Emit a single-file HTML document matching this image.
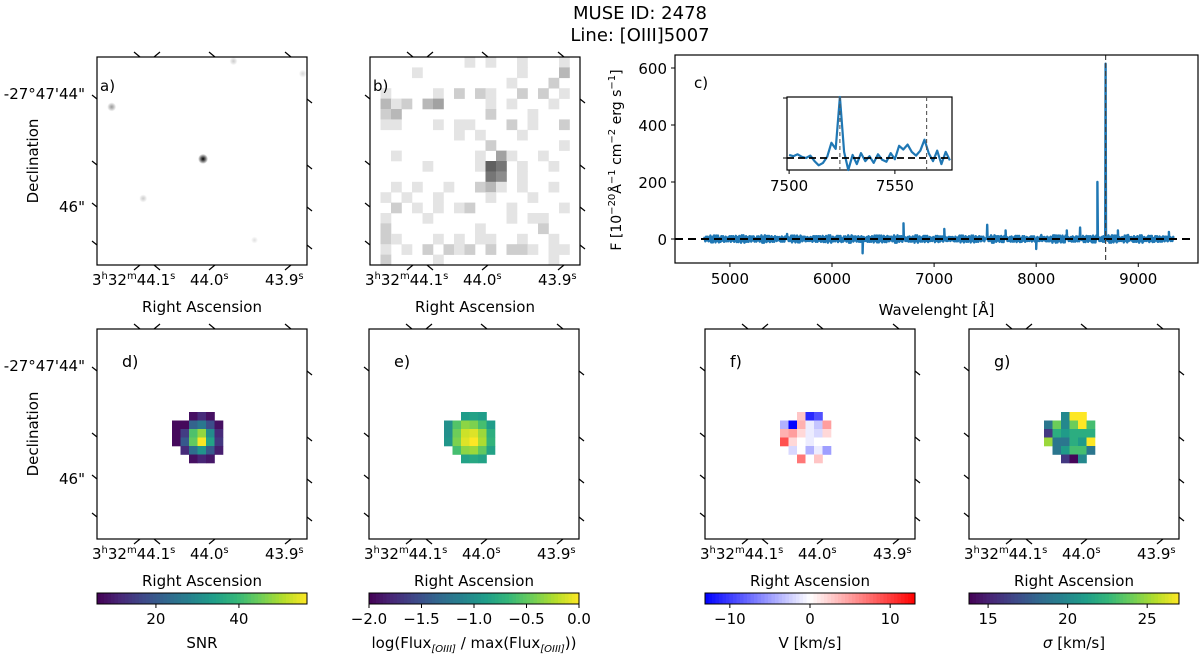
<!DOCTYPE html>
<html><head><meta charset="utf-8"><style>
html,body{margin:0;padding:0;background:#fff;}
svg{display:block;font-family:"DejaVu Sans","Liberation Sans",sans-serif;}
</style></head><body>
<svg id="fig" width="1200" height="657" viewBox="0 0 1200 657" xmlns="http://www.w3.org/2000/svg">
<text x="640" y="19" font-size="18" text-anchor="middle">MUSE ID: 2478</text>
<text x="640" y="41" font-size="18" text-anchor="middle">Line: [OIII]5007</text>
<g id="layer"></g>
</svg>
<script>
// ---- spectrum data ----
const specStart = 4750, specStep = 50;
const specFlux = [8,-5,12,3,-8,10,-4,6,-10,9,2,-6,11,-3,7,-9,4,12,-5,8,-7,3,10,-4,6,-8,11,2,-6,9,-3,7,-10,5,12,-4,8,-6,3,10,-9,6,-2,11,-7,4,9,-5,7,-8,12,-3,5,-10,8,2,-6,10,-4,6,-9,11,3,-7,9,-2,14,-8,6,12,-5,15,-9,8,-4,10,-12,7,3,-6,12,-8,5,14,-10,6,-7,11,3,-9,8,-5,10];
const spikeWave = [5560,6300,6700,7100,7520,7700,8000,8300,8430,8600,8680,8800,9300];
const spikeFlux = [18,-50,55,35,50,30,-35,30,40,200,615,30,25];
const lineWave = 8680;
const yTicks = [0,200,400,600];
const xTicks = [5000,6000,7000,8000,9000];
// ---- inset data ----
const insetWave = [7500,7502,7504,7506,7508,7510,7512,7514,7516,7518,7520,7522,7524,7526,7528,7530,7532,7534,7536,7538,7540,7542,7544,7546,7548,7550,7552,7554,7556,7558,7560,7562,7564,7566,7568,7570,7572,7574,7576];
const insetFlux = [5,3,6,2,0,4,-5,-12,-8,2,25,15,100,10,-20,5,-10,8,-5,3,-8,6,-3,-6,8,-2,20,14,22,10,4,12,30,8,-5,12,-10,10,-4];
const insetLines = [7524,7565];
const insetTicks = [7500,7550];
// ---- 2D maps (null = masked) ----
const snrMap = [[null,null,8,12,8,null],[7,7,22,26,18,8],[7,15,42,48,30,12],[7,20,44,56,35,14],[null,12,24,32,20,10],[null,null,8,11,9,null]];
const fluxMap = [[null,null,-0.9,-0.85,-0.9,null],[-1.0,-0.55,-0.35,-0.4,-0.6,-0.9],[-1.0,-0.45,-0.15,-0.1,-0.3,-0.75],[-0.95,-0.4,-0.1,0,-0.25,-0.7],[null,-0.6,-0.35,-0.3,-0.5,-0.85],[null,null,-0.85,-0.8,-0.85,null]];
const velMap = [[null,null,3,-11,-9,null],[-4,-13,4,-1,-3,5],[4,5,2,-1,-2,2],[9,2,0,-1,0,0],[null,-2,0,-4,-1,-5],[null,null,7,0,3,null]];
const sigMap = [[null,null,20,27,27,null],[19,24,20,24,27,23],[16,22,21,22,22,22],[25,19,19,22,21,27],[null,19,21,23,23,19],[null,null,16,14,20,null]];
const snrTicks = [20,40], fluxTicks = [-2.0,-1.5,-1.0,-0.5,0.0], velTicks = [-10,0,10], sigTicks = [15,20,25];
const bImage = ["00000000010100100010","00001000000000100030","00000000000001000200","01000010202100202010","03120340000101000100","02300000000200010000","01100010110002010020","00000000101000100000","00000000000200000010","00100000001041001000","00000100001760100100","00000000000650100000","00101001002310100100","01010010000100010000","00201010120001000010","01000100000001011000","02000000001000002000","02100010101100100100","01010202120202210110","02000010000000000100"];
const aSources = [[0.505,0.49,5,1],[0.07,0.24,4.5,0.4],[0.22,0.68,4,0.2],[0.65,0.02,4,0.2],[0.98,0.08,4,0.15],[0.75,0.88,3.5,0.12]];

const NS="http://www.w3.org/2000/svg";
const L=document.getElementById('layer');
function el(tag,attrs,parent){const e=document.createElementNS(NS,tag);for(const k in attrs)e.setAttribute(k,attrs[k]);(parent||L).appendChild(e);return e;}
function txt(x,y,s,size,anchor,parent){const t=el('text',{x:x,y:y,'font-size':size,'text-anchor':anchor||'middle'},parent);t.textContent=s;return t;}

const vir=['#440154','#482878','#3e4989','#31688e','#26828e','#1f9e89','#35b779','#6ece58','#b5de2b','#fde725'];
function hex(h){return [parseInt(h.substr(1,2),16),parseInt(h.substr(3,2),16),parseInt(h.substr(5,2),16)];}
function viridis(t){t=Math.max(0,Math.min(1,t));const p=t*9,i=Math.min(8,Math.floor(p)),f=p-i;const a=hex(vir[i]),b=hex(vir[i+1]);return 'rgb('+a.map((v,k)=>Math.round(v+(b[k]-v)*f)).join(',')+')';}
function bwr(t){t=Math.max(0,Math.min(1,t));if(t<0.5){const f=t/0.5;return 'rgb('+Math.round(255*f)+','+Math.round(255*f)+',255)';}const f=(t-0.5)/0.5;return 'rgb(255,'+Math.round(255*(1-f))+','+Math.round(255*(1-f))+')';}

const TOP=[57,265], BOT=[329,539];
function wcsFrame(x0,x1,y0,y1,name,showDec,label,lblSize){
  const g=el('g',{});
  
  
  el('rect',{x:x0,y:y0,width:x1-x0,height:y1-y0,fill:'none',stroke:'#000','stroke-width':1.2},g);
  const ty=y1+20;
  const ra=el('text',{x:x0-5,y:ty,'font-size':15,'text-anchor':'start'},g);
  ra.innerHTML='3<tspan dy="-6" font-size="10">h</tspan><tspan dy="6">32</tspan><tspan dy="-6" font-size="10">m</tspan><tspan dy="6">44.1</tspan><tspan dy="-6" font-size="10">s</tspan>';
  const r2=el('text',{x:x0+93,y:ty,'font-size':15,'text-anchor':'start'},g);
  r2.innerHTML='44.0<tspan dy="-6" font-size="10">s</tspan>';
  const r3=el('text',{x:x0+168,y:ty,'font-size':15,'text-anchor':'start'},g);
  r3.innerHTML='43.9<tspan dy="-6" font-size="10">s</tspan>';
  const ral=txt((x0+x1)/2,y1+47,'Right Ascension',15,'middle',g);
  
  
  [[x0+37,x0+43],[x0+63,x0+57],[x0+112,x0+118],[x0+188,x0+194]].forEach(p=>{
    el('path',{d:'M'+p[0]+' '+(y1+5)+' L'+p[1]+' '+y1,stroke:'#000','stroke-width':1.2,fill:'none'},g);
    el('path',{d:'M'+p[0]+' '+(y0-5)+' L'+p[1]+' '+y0,stroke:'#000','stroke-width':1.2,fill:'none'},g);
  });
  [[y0+42],[y0+108],[y0+150],[y0+188]].forEach(p=>{
    el('path',{d:'M'+(x0-5)+' '+(p[0]-4)+' L'+x0+' '+p[0],stroke:'#000','stroke-width':1.2,fill:'none'},g);
    el('path',{d:'M'+(x1+5)+' '+(p[0]+4)+' L'+x1+' '+p[0],stroke:'#000','stroke-width':1.2,fill:'none'},g);
  });
  if(showDec){
    txt(x0-12,y0+42,'-27°47\'44"',15,'end',g);
    txt(x0-12,y0+155,'46"',15,'end',g);
    const d=txt(0,0,'Declination',15,'middle',g);
    d.setAttribute('transform','translate(38,'+((y0+y1)/2)+') rotate(-90)');
    
    
  }
  const pl=txt(x0+(lblSize>15?25:3),y0+(lblSize>15?38:34),label,lblSize,'start',g);
  
  
  return g;
}

// ---- panel a ----
(function(){
  const x0=97,x1=307,y0=TOP[0],y1=TOP[1];
  const g=el('g',{});
  
  
  const defs=el('defs',{},g);
  const rg=el('radialGradient',{id:'src'},defs);
  el('stop',{offset:'0','stop-color':'#000','stop-opacity':1},rg);
  el('stop',{offset:'0.45','stop-color':'#000','stop-opacity':0.6},rg);
  el('stop',{offset:'1','stop-color':'#000','stop-opacity':0},rg);
  aSources.forEach(s=>{
    const c=el('circle',{cx:x0+s[0]*(x1-x0),cy:y0+s[1]*(y1-y0),r:s[2],fill:'url(#src)',opacity:s[3]},g);
    
    
  });
  wcsFrame(x0,x1,y0,y1,'panel-a',true,'a)',15);
})();
// ---- panel b ----
(function(){
  const x0=370,x1=580,y0=TOP[0],y1=TOP[1];
  const n=bImage.length,cw=(x1-x0)/20,ch=(y1-y0)/n;
  const g=el('g',{});
  
  
  bImage.forEach((row,r)=>{for(let c=0;c<row.length;c++){const d=+row[c];if(!d)continue;const v=Math.round(250-d*22);
    const cell=el('rect',{x:x0+c*cw,y:y0+r*ch,width:cw+0.3,height:ch+0.3,fill:'rgb('+v+','+v+','+v+')'},g);
    
    }});
  wcsFrame(x0,x1,y0,y1,'panel-b',false,'b)',15);
})();
// ---- panel c spectrum ----
(function(){
  const x0=675,x1=1198,y0=55,y1=263;
  const xS=w=>x0+(w-4462)*(x1-x0)/(9585-4462);
  const yS=v=>239-v*0.285;
  const g=el('g',{});
  
  
  const pts=[];
  specFlux.forEach((v,i)=>pts.push([specStart+i*specStep,v]));
  spikeWave.forEach((w,i)=>{pts.push([w-4,0]);pts.push([w,spikeFlux[i]]);pts.push([w+4,0]);});
  pts.sort((a,b)=>a[0]-b[0]);
  let d='';
  for(let i=0;i<pts.length;i++){const p=pts[i];d+=(i?'L':'M')+xS(p[0]).toFixed(1)+' '+yS(p[1]).toFixed(1);
    if(i<pts.length-1&&pts[i+1][0]-p[0]>20){const a=pts[i+1][0]-p[0];const amp=7+Math.abs(p[1])%7;
      for(let k=1;k<6;k++){const w=p[0]+a*k/6;d+='L'+xS(w).toFixed(1)+' '+yS((k%2?1:-1)*(p[1]>0?-1:1)*amp*(k%3?1:0.6)).toFixed(1);}}}
  const line=el('path',{d:d,fill:'none',stroke:'#1f77b4','stroke-width':2.4,'stroke-linejoin':'round'},g);
  
  
  const zl=el('line',{x1:x0,x2:x1-6,y1:yS(0),y2:yS(0),stroke:'#000','stroke-width':2,'stroke-dasharray':'8,5'},g);
  
  
  const vl=el('line',{x1:xS(lineWave),x2:xS(lineWave),y1:y0,y2:y1,stroke:'#444','stroke-width':1.2,'stroke-dasharray':'5,3'},g);
  
  
  el('rect',{x:x0,y:y0,width:x1-x0,height:y1-y0,fill:'none',stroke:'#000','stroke-width':1.2},g);
  yTicks.forEach(v=>{el('line',{x1:x0-4,x2:x0,y1:yS(v),y2:yS(v),stroke:'#000'},g);const t=txt(x0-8,yS(v)+6,String(v),15,'end',g);});
  xTicks.forEach(v=>{el('line',{x1:xS(v),x2:xS(v),y1:y1,y2:y1+4,stroke:'#000'},g);const t=txt(xS(v),y1+21,String(v),15,'middle',g);});
  const xl=txt((x0+x1)/2,y1+52,'Wavelenght [Å]',15,'middle',g);
  
  
  const yl=el('text',{'font-size':14,'text-anchor':'middle',transform:'translate(621,160) rotate(-90)'},g);
  yl.innerHTML='F [10<tspan dy="-6" font-size="10">−20</tspan><tspan dy="6">Å</tspan><tspan dy="-6" font-size="10">−1</tspan><tspan dy="6"> cm</tspan><tspan dy="-6" font-size="10">−2</tspan><tspan dy="6"> erg s</tspan><tspan dy="-6" font-size="10">−1</tspan><tspan dy="6">]</tspan>';
  
  
  const cl=txt(694,88,'c)',15,'start',g);
  
  
  const ix0=787,ix1=952,iy0=97,iy1=170;
  const ixS=w=>ix0+(w-7499)*(ix1-ix0)/78, iyS=v=>158-v*0.61;
  const ig=el('g',{},g);
  
  
  el('rect',{x:ix0,y:iy0,width:ix1-ix0,height:iy1-iy0,fill:'#fff',stroke:'#000','stroke-width':1.2},ig);
  let id='';insetWave.forEach((w,i)=>{id+=(i?'L':'M')+ixS(w).toFixed(1)+' '+Math.max(iy0,Math.min(iy1,iyS(insetFlux[i]))).toFixed(1);});
  const il=el('path',{d:id,fill:'none',stroke:'#1f77b4','stroke-width':2.2,'stroke-linejoin':'round'},ig);
  
  
  el('line',{x1:ix0,x2:ix1,y1:iyS(0),y2:iyS(0),stroke:'#000','stroke-width':1.8,'stroke-dasharray':'7,4'},ig);
  insetLines.forEach(w=>el('line',{x1:ixS(w),x2:ixS(w),y1:iy0,y2:iy1,stroke:'#555','stroke-width':1.1,'stroke-dasharray':'4,3'},ig));
  el('line',{x1:ix0-4,x2:ix0,y1:iy0+1,y2:iy0+1,stroke:'#000'},ig);
  el('line',{x1:ix0-4,x2:ix0,y1:iyS(0),y2:iyS(0),stroke:'#000'},ig);
  insetTicks.forEach(w=>{el('line',{x1:ixS(w),x2:ixS(w),y1:iy1,y2:iy1+4,stroke:'#000'},ig);txt(ixS(w),iy1+21,String(w),15,'middle',ig);});
})();
// ---- bottom maps ----
function mapPanel(x0,name,label,data,vmin,vmax,cmap,ticks,cbTitle,showDec,gx){
  const x1=x0+210,y0=BOT[0],y1=BOT[1];
  const g=el('g',{});
  
  
  const cs=8.5,gy=412;
  data.forEach((row,r)=>row.forEach((v,c)=>{if(v===null)return;
    const cell=el('rect',{x:gx+c*cs,y:gy+r*cs,width:cs+0.3,height:cs+0.3,fill:cmap((v-vmin)/(vmax-vmin))},g);
    
    }));
  wcsFrame(x0,x1,y0,y1,name,showDec,label,16);
  const cg=el('g',{});
  
  
  const N=60,w=210/N;
  for(let i=0;i<N;i++)el('rect',{x:x0+i*w,y:593,width:w+0.4,height:11,fill:cmap((i+0.5)/N)},cg);
  el('rect',{x:x0,y:593,width:210,height:11,fill:'none',stroke:'#000','stroke-width':1},cg);
  ticks.forEach(t=>{const xx=x0+(t-vmin)/(vmax-vmin)*210;el('line',{x1:xx,x2:xx,y1:604,y2:608,stroke:'#000'},cg);
    const s=(t<0?'−':'')+(Number.isInteger(t)&&!String(ticks).includes('.')?Math.abs(t):Math.abs(t).toFixed(1));
    const tl=txt(xx,624,s,15,'middle',cg);});
  const tt=el('text',{x:x0+105,y:648,'font-size':15,'text-anchor':'middle'},cg);
  tt.innerHTML=cbTitle;
  
  
}
mapPanel(97,'panel-d','d)',snrMap,5.8,56.4,viridis,snrTicks,'SNR',true,172);
mapPanel(369,'panel-e','e)',fluxMap,-2,0,viridis,fluxTicks,'log(Flux<tspan dy="4" font-size="10" font-style="italic">[OIII]</tspan><tspan dy="-4"> / max(Flux</tspan><tspan dy="4" font-size="10" font-style="italic">[OIII]</tspan><tspan dy="-4">))</tspan>',false,444);
mapPanel(705,'panel-f','f)',velMap,-13.1,13.1,bwr,velTicks,'V [km/s]',false,780);
mapPanel(969,'panel-g','g)',sigMap,13.8,27,viridis,sigTicks,'<tspan font-style="italic">σ</tspan> [km/s]',false,1044);
</script>
</body></html>
